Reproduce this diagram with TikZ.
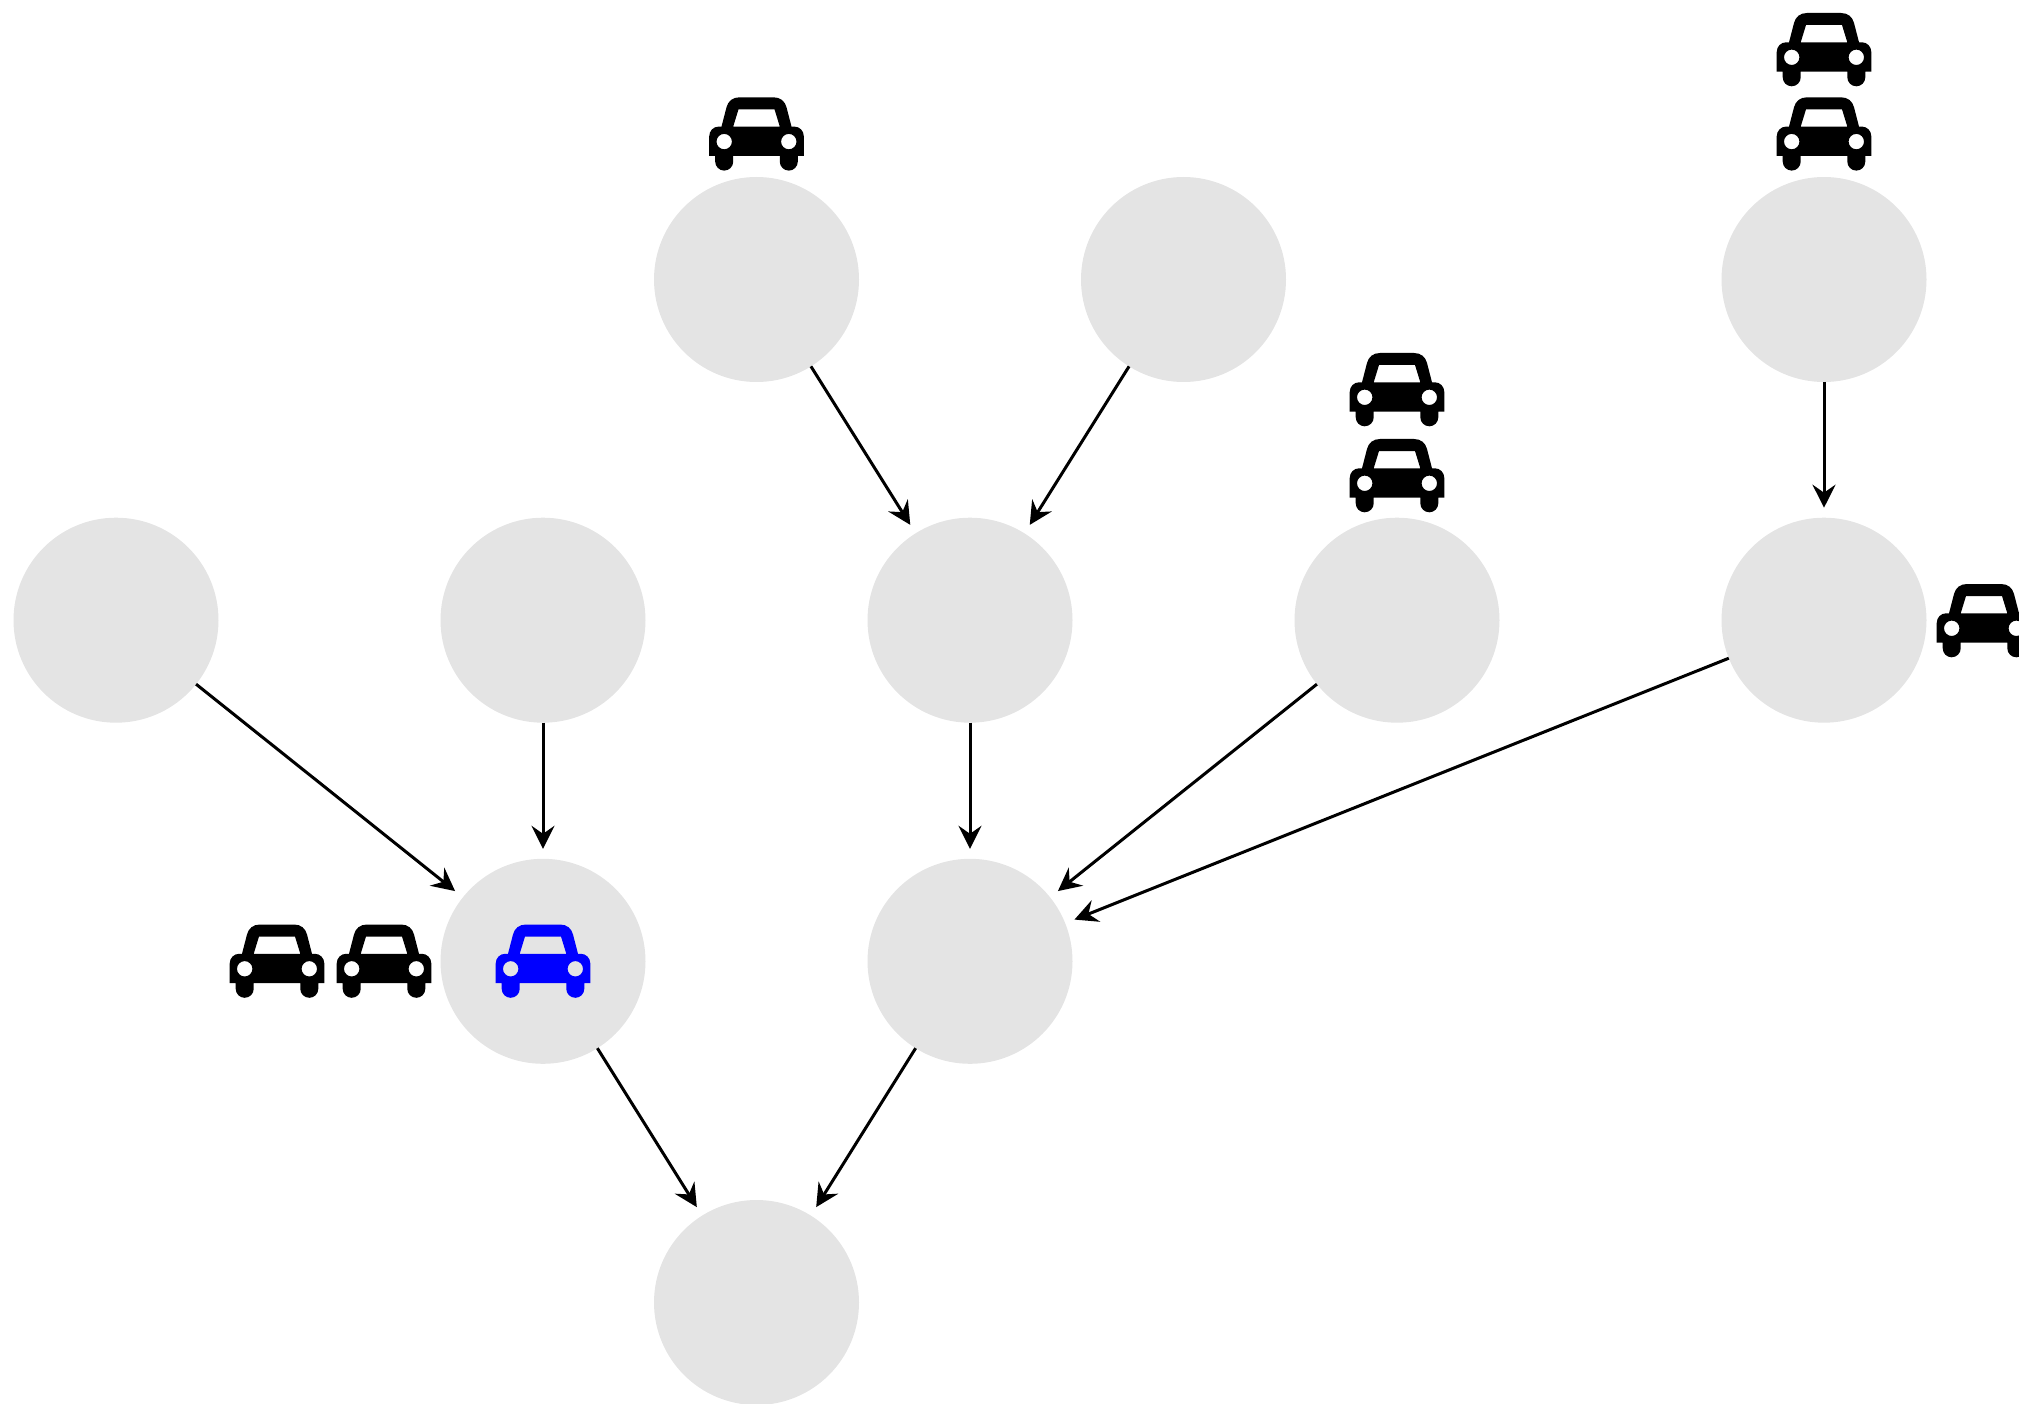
\documentclass[tikz,border=0pt]{standalone}
\usetikzlibrary{arrows.meta}
\definecolor{nodegray}{HTML}{E4E4E4}
\tikzset{
  x=1pt,y=-1pt,
  place/.style={circle,fill=nodegray,minimum size=205pt,inner sep=0pt,outer sep=0pt},
  flow/.style={line width=3pt,shorten >=10pt,-{Stealth[length=23pt,width=23pt,inset=8pt]}},
  pics/car/.style={code={
    \fill[#1,even odd rule]
      (-47.3,58.7) -- (-47.3,39) .. controls (-47.3,33.5) and (-43,29.3) .. (-38,29.3) -- (-35,29.3)
      -- (-30,10) .. controls (-28.5,4) and (-24,0) .. (-17,0) -- (17,0)
      .. controls (24,0) and (28.5,4) .. (30,10) -- (35,29.3) -- (38,29.3)
      .. controls (43,29.3) and (47.3,33.5) .. (47.3,39) -- (47.3,58.7) -- (41.3,58.7) -- (41.3,64.3)
      arc[start angle=0,end angle=180,radius=9] -- (23.3,58.7) -- (-23.3,58.7) -- (-23.3,64.3)
      arc[start angle=0,end angle=180,radius=9] -- (-41.3,58.7) -- cycle
      (-23.3,29.3) -- (-18,12) -- (18,12) -- (23.3,29.3) -- cycle
      (-32.3,44.3) circle[radius=7.7] (32.3,44.3) circle[radius=7.7];
  }}
}
\begin{document}
\begin{tikzpicture}
\useasboundingbox (0,0) rectangle (2019,1404);
\node[place] (a1) at (756.5,279.5) {};
\node[place] (a2) at (1183.5,279.5) {};
\node[place] (a3) at (1824,279.5) {};
\node[place] (b1) at (116,620.2) {};
\node[place] (b2) at (543,620.2) {};
\node[place] (b3) at (970,620.2) {};
\node[place] (b4) at (1397,620.2) {};
\node[place] (b5) at (1824,620.2) {};
\node[place] (c1) at (543,961.3) {};
\node[place] (c2) at (970,961.3) {};
\node[place] (d1) at (756.5,1302.5) {};
\draw[flow] (a1) -- (b3);
\draw[flow] (a2) -- (b3);
\draw[flow] (a3) -- (b5);
\draw[flow] (b1) -- (c1);
\draw[flow] (b2) -- (c1);
\draw[flow] (b3) -- (c2);
\draw[flow] (b4) -- (c2);
\draw[flow] (b5) -- (c2);
\draw[flow] (c1) -- (d1);
\draw[flow] (c2) -- (d1);
\pic at (756.5,97.3) {car=black};
\pic at (1824,13) {car=black};
\pic at (1824,97.3) {car=black};
\pic at (1397,353) {car=black};
\pic at (1397,439) {car=black};
\pic at (1984,584) {car=black};
\pic at (277,924.5) {car=black};
\pic at (384,924.5) {car=black};
\pic at (543,924.5) {car=blue};
\end{tikzpicture}
\end{document}
